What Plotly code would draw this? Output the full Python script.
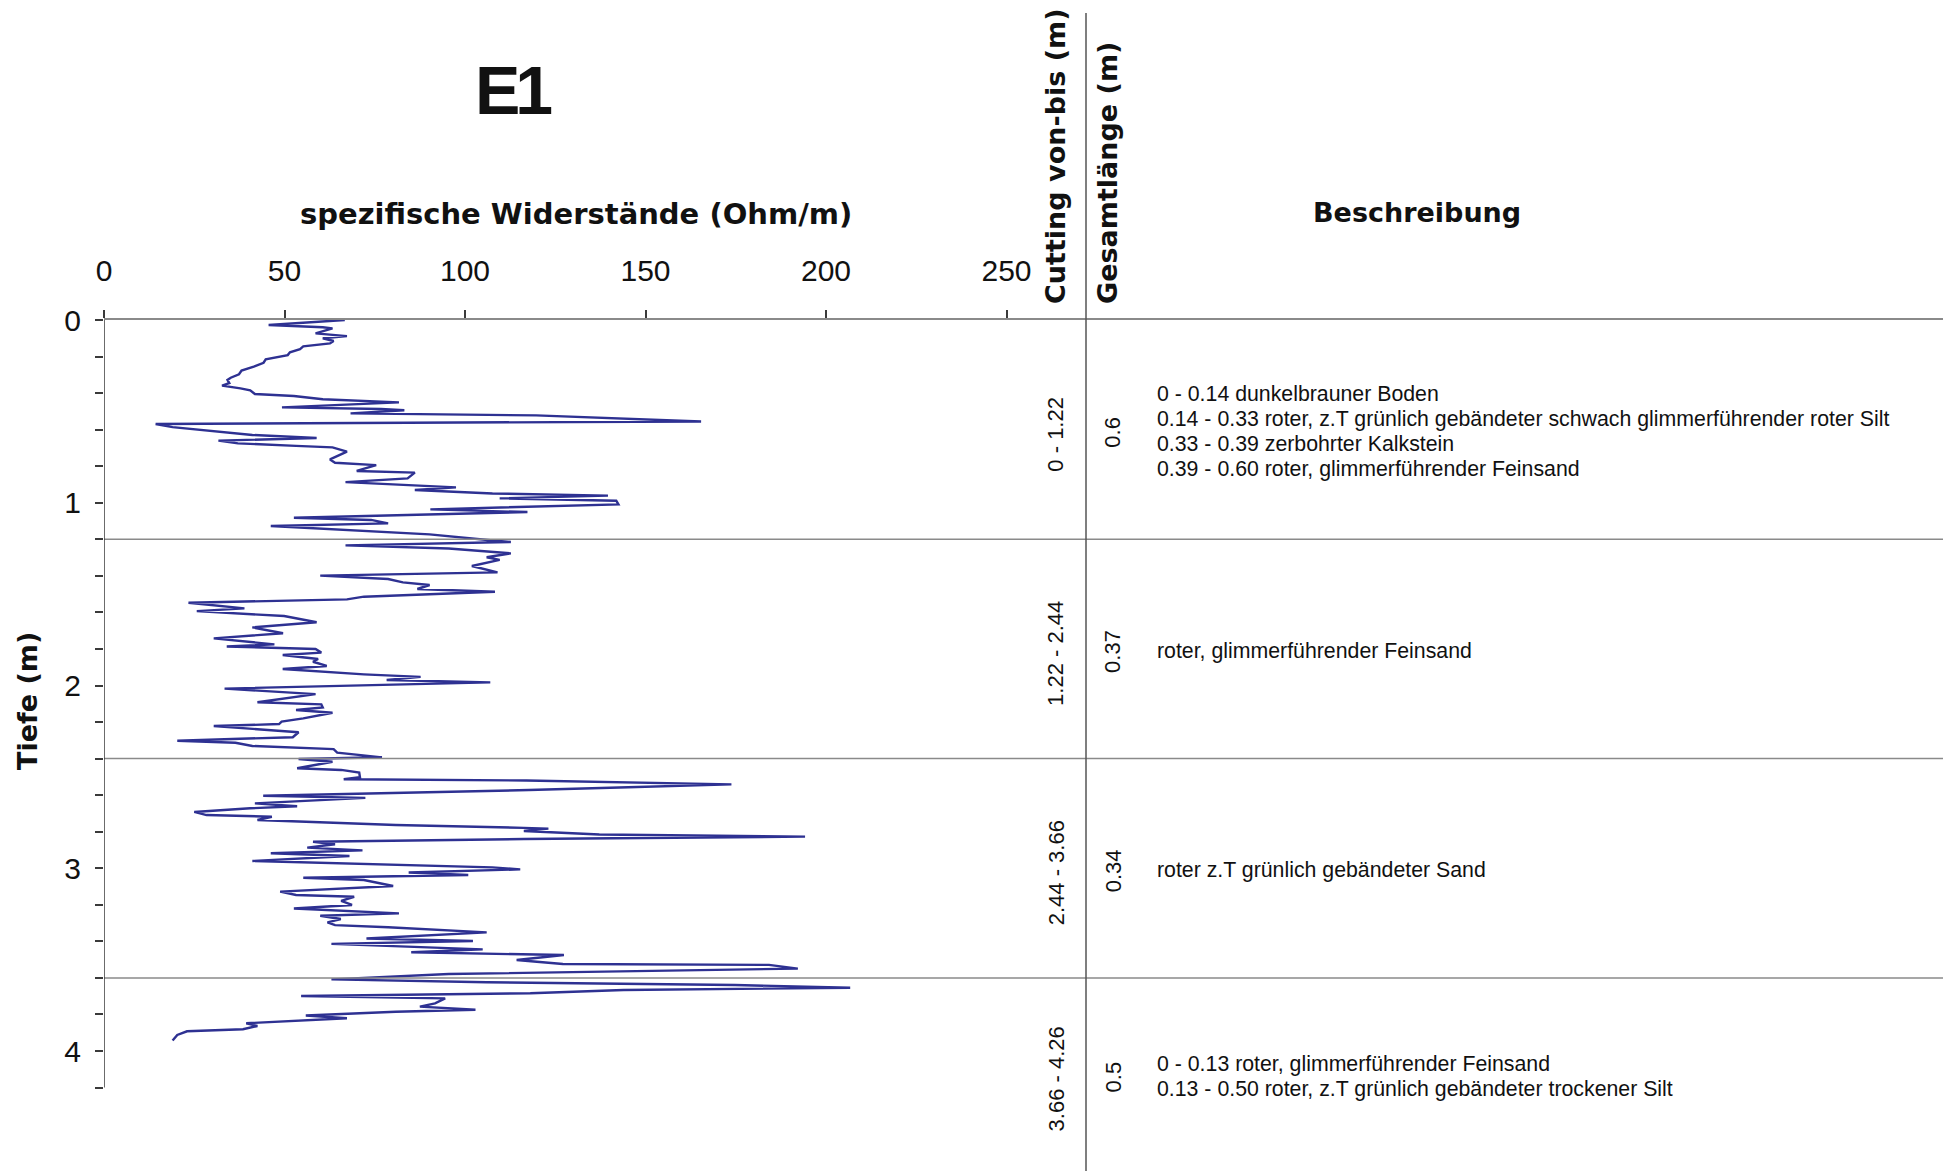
import plotly.graph_objects as go

# ---------------- data ----------------
depth_m = [
    0.000, 0.027, 0.040, 0.046, 0.073, 0.088, 0.100, 0.115, 0.128, 0.144,
    0.159, 0.177, 0.192, 0.215, 0.234, 0.255, 0.277, 0.297, 0.316, 0.328,
    0.345, 0.359, 0.374, 0.385, 0.405, 0.416, 0.434, 0.451, 0.478, 0.487,
    0.494, 0.511, 0.522, 0.555, 0.569, 0.586, 0.629, 0.646, 0.660, 0.675,
    0.689, 0.697, 0.720, 0.733, 0.763, 0.781, 0.794, 0.826, 0.835, 0.867,
    0.887, 0.916, 0.930, 0.949, 0.961, 0.976, 0.989, 1.009, 1.036, 1.051,
    1.082, 1.094, 1.113, 1.127, 1.173, 1.204, 1.215, 1.233, 1.250, 1.277,
    1.298, 1.313, 1.346, 1.381, 1.399, 1.417, 1.436, 1.450, 1.472, 1.487,
    1.514, 1.529, 1.547, 1.578, 1.593, 1.620, 1.654, 1.682, 1.714, 1.742,
    1.775, 1.787, 1.800, 1.820, 1.833, 1.855, 1.870, 1.893, 1.910, 1.939,
    1.953, 1.970, 1.983, 2.017, 2.047, 2.092, 2.103, 2.120, 2.134, 2.149,
    2.180, 2.198, 2.211, 2.222, 2.256, 2.283, 2.302, 2.313, 2.331, 2.348,
    2.367, 2.393, 2.402, 2.417, 2.453, 2.462, 2.477, 2.502, 2.513, 2.520,
    2.541, 2.557, 2.572, 2.603, 2.615, 2.645, 2.661, 2.672, 2.692, 2.709,
    2.718, 2.736, 2.763, 2.779, 2.783, 2.796, 2.815, 2.827, 2.840, 2.855,
    2.869, 2.887, 2.902, 2.918, 2.933, 2.960, 2.979, 2.995, 3.006, 3.023,
    3.037, 3.052, 3.064, 3.097, 3.128, 3.146, 3.156, 3.179, 3.201, 3.220,
    3.247, 3.260, 3.278, 3.296, 3.311, 3.323, 3.351, 3.384, 3.398, 3.414,
    3.444, 3.460, 3.475, 3.502, 3.524, 3.529, 3.549, 3.579, 3.608, 3.624,
    3.639, 3.654, 3.666, 3.684, 3.699, 3.712, 3.739, 3.757, 3.774, 3.785,
    3.806, 3.821, 3.848, 3.863, 3.881, 3.892, 3.912, 3.943,
]
resistivity = [
    66.7, 45.6, 60.6, 63.3, 58.6, 67.3, 60.6, 63.6, 62.6, 55.2,
    54.3, 51.5, 50.9, 44.8, 44.2, 41.5, 38.1, 37.4, 35.1, 34.2,
    34.7, 32.7, 37.8, 40.5, 41.8, 52.6, 60.6, 81.7, 49.3, 76.7,
    83.2, 68.3, 119.7, 165.4, 14.3, 19.0, 41.1, 58.9, 31.7, 37.1,
    53.2, 63.3, 67.3, 66.0, 62.6, 64.0, 75.4, 70.0, 86.1, 84.1,
    66.9, 97.5, 86.1, 107.6, 139.6, 109.6, 141.9, 142.5, 90.4, 117.3,
    52.6, 74.0, 78.7, 46.2, 90.2, 106.3, 112.7, 66.9, 95.5, 112.7,
    106.0, 109.6, 101.9, 109.0, 59.9, 78.7, 82.8, 90.2, 86.8, 108.3,
    72.0, 67.3, 23.4, 38.9, 25.7, 49.9, 58.9, 41.1, 49.6, 30.4,
    47.2, 34.0, 58.6, 60.2, 49.5, 59.3, 57.9, 61.7, 49.5, 72.0,
    87.7, 78.3, 107.0, 33.4, 58.6, 42.5, 60.2, 60.6, 53.2, 63.3,
    55.2, 49.2, 48.5, 30.4, 53.9, 52.3, 20.3, 36.4, 41.1, 63.6,
    64.6, 77.0, 53.9, 63.3, 53.5, 65.7, 70.7, 70.9, 66.4, 117.0,
    173.8, 145.2, 117.7, 44.1, 72.4, 41.8, 53.5, 40.5, 25.0, 28.4,
    46.5, 42.5, 80.8, 116.3, 123.1, 116.3, 137.2, 194.2, 116.3, 57.9,
    64.0, 56.3, 71.6, 46.2, 68.0, 41.1, 73.4, 107.6, 115.3, 84.4,
    100.9, 55.2, 72.0, 80.1, 48.8, 53.2, 69.3, 65.7, 68.7, 52.6,
    81.7, 59.9, 65.6, 61.9, 64.0, 78.7, 106.0, 72.7, 102.2, 63.0,
    104.9, 85.1, 127.4, 114.3, 127.1, 184.2, 192.2, 95.5, 63.0, 106.0,
    174.8, 206.7, 143.9, 118.1, 54.6, 94.5, 91.7, 87.5, 102.9, 80.8,
    55.9, 67.3, 39.4, 42.5, 38.5, 23.0, 20.3, 19.0,
]

x_tick_values = [0, 50, 100, 150, 200, 250]
depth_tick_values = [0, 0.2, 0.4, 0.6, 0.8, 1, 1.2, 1.4, 1.6, 1.8, 2, 2.2,
                     2.4, 2.6, 2.8, 3, 3.2, 3.4, 3.6, 3.8, 4, 4.2]
depth_tick_labels = ["0", "", "", "", "", "1", "", "", "", "", "2", "",
                     "", "", "", "3", "", "", "", "", "4", ""]

row_bounds = [0, 1.2, 2.4, 3.6]
cutting_labels = ["0 - 1.22", "1.22 - 2.44", "2.44 - 3.66", "3.66 - 4.26"]
gesamt_labels = ["0.6", "0.37", "0.34", "0.5"]
descriptions = [
    ["0 - 0.14 dunkelbrauner Boden",
     "0.14 - 0.33 roter, z.T grünlich gebändeter schwach glimmerführender roter Silt",
     "0.33 - 0.39 zerbohrter Kalkstein",
     "0.39 - 0.60 roter, glimmerführender Feinsand"],
    ["roter, glimmerführender Feinsand"],
    ["roter z.T grünlich gebändeter Sand"],
    ["0 - 0.13 roter, glimmerführender Feinsand",
     "0.13 - 0.50 roter, z.T grünlich gebändeter trockener Silt"],
]

title_text = "E1"
x_title = "spezifische Widerstände (Ohm/m)"
y_title = "Tiefe (m)"
col1_title = "Cutting von-bis (m)"
col2_title = "Gesamtlänge (m)"
col3_title = "Beschreibung"

# ---------------- layout geometry ----------------
W, H = 1946, 1171
ML, MR, MT, MB = 104, 3, 320, 0
PX_PER_UNIT = 3.61      # horizontal pixels per Ohm/m
PX_PER_M = 182.75       # vertical pixels per metre
plot_w = W - ML - MR
plot_h = H - MT - MB
x_max = plot_w / PX_PER_UNIT
y_max = plot_h / PX_PER_M
axis_end_depth = 4.2
DESC_LINE_PX = 25


def pxx(px):
    return (px - ML) / plot_w


def pxy(py):
    return (H - MB - py) / plot_h


LINE_BLUE = "#2E3192"
GRID_GRAY = "#8a8a8a"
DARK = "#3a3a3a"
TXT = "#111111"
SANS = "Liberation Sans, Arial, sans-serif"
WIDE_BOLD = "DejaVu Sans, Verdana, sans-serif"

fig = go.Figure()
fig.add_trace(go.Scatter(
    x=resistivity, y=depth_m, mode="lines",
    line=dict(color=LINE_BLUE, width=2.4),
    showlegend=False, hoverinfo="x+y",
))

shapes = []
for b in row_bounds[1:]:
    shapes.append(dict(type="line", xref="paper", yref="y",
                       x0=0, x1=1, y0=b, y1=b,
                       line=dict(color=GRID_GRAY, width=1.5)))
shapes.append(dict(type="line", xref="x", yref="y", x0=0, x1=0,
                   y0=0, y1=axis_end_depth,
                   line=dict(color=DARK, width=1.5)))
shapes.append(dict(type="line", xref="paper", yref="paper",
                   x0=pxx(1086), x1=pxx(1086), y0=pxy(1171), y1=pxy(13),
                   line=dict(color="#555555", width=1.5)))

ann = []
ann.append(dict(text=f'<b><span style="letter-spacing:-5px">{title_text}</span></b>',
                x=pxx(513), y=pxy(90),
                xref="paper", yref="paper", showarrow=False,
                xanchor="center", yanchor="middle",
                font=dict(family="Liberation Sans, Arial", size=68, color=TXT)))
ann.append(dict(text=f"<b>{x_title}</b>", x=pxx(576), y=pxy(214),
                xref="paper", yref="paper", showarrow=False,
                xanchor="center", yanchor="middle",
                font=dict(family=WIDE_BOLD, size=29, color=TXT)))
ann.append(dict(text=f"<b>{y_title}</b>", x=pxx(27), y=pxy(701),
                xref="paper", yref="paper", showarrow=False, textangle=-90,
                xanchor="center", yanchor="middle",
                font=dict(family=WIDE_BOLD, size=27, color=TXT)))
ann.append(dict(text=f"<b>{col1_title}</b>", x=pxx(1056), y=pxy(156),
                xref="paper", yref="paper", showarrow=False, textangle=-90,
                xanchor="center", yanchor="middle",
                font=dict(family=WIDE_BOLD, size=27, color=TXT)))
ann.append(dict(text=f"<b>{col2_title}</b>", x=pxx(1108), y=pxy(173),
                xref="paper", yref="paper", showarrow=False, textangle=-90,
                xanchor="center", yanchor="middle",
                font=dict(family=WIDE_BOLD, size=27, color=TXT)))
ann.append(dict(text=f"<b>{col3_title}</b>", x=pxx(1417), y=pxy(213),
                xref="paper", yref="paper", showarrow=False,
                xanchor="center", yanchor="middle",
                font=dict(family=WIDE_BOLD, size=27, color=TXT)))

row_edges = row_bounds + [y_max]
for i in range(len(cutting_labels)):
    mid = (row_edges[i] + row_edges[i + 1]) / 2
    ann.append(dict(text=cutting_labels[i], x=pxx(1056), y=mid,
                    xref="paper", yref="y", showarrow=False, textangle=-90,
                    xanchor="center", yanchor="middle", yshift=-5,
                    font=dict(family=SANS, size=22, color=TXT)))
    ann.append(dict(text=gesamt_labels[i], x=pxx(1113), y=mid,
                    xref="paper", yref="y", showarrow=False, textangle=-90,
                    xanchor="center", yanchor="middle", yshift=-3,
                    font=dict(family=SANS, size=22, color=TXT)))
    lines = descriptions[i]
    n = len(lines)
    for j, line in enumerate(lines):
        offset = ((n - 1) / 2 - j) * DESC_LINE_PX - 2
        ann.append(dict(text=line, x=pxx(1155), y=mid,
                        xref="paper", yref="y", showarrow=False, align="left",
                        xanchor="left", yanchor="middle", yshift=offset,
                        font=dict(family=SANS, size=21.3, color=TXT)))

fig.update_layout(
    width=W, height=H,
    margin=dict(l=ML, r=MR, t=MT, b=MB, pad=0),
    paper_bgcolor="white", plot_bgcolor="white",
    shapes=shapes, annotations=ann, showlegend=False,
    xaxis=dict(side="top", range=[0, x_max], tickvals=x_tick_values,
               ticks="outside", ticklen=8, tickwidth=1.5, tickcolor=DARK,
               showline=True, linecolor=GRID_GRAY, linewidth=1.5,
               showgrid=False, zeroline=False, ticklabelstandoff=17,
               tickfont=dict(family=SANS, size=30, color=TXT)),
    yaxis=dict(range=[y_max, 0], tickvals=depth_tick_values,
               ticktext=depth_tick_labels,
               ticks="outside", ticklen=8, tickwidth=1.5, tickcolor=DARK,
               showline=False, showgrid=False, zeroline=False,
               ticklabelstandoff=8,
               tickfont=dict(family=SANS, size=30, color=TXT)),
)

fig.write_html(
    "out.html",
    config={"displayModeBar": False},
    post_script="document.body.style.margin='0';document.body.style.overflow='hidden';",
)
